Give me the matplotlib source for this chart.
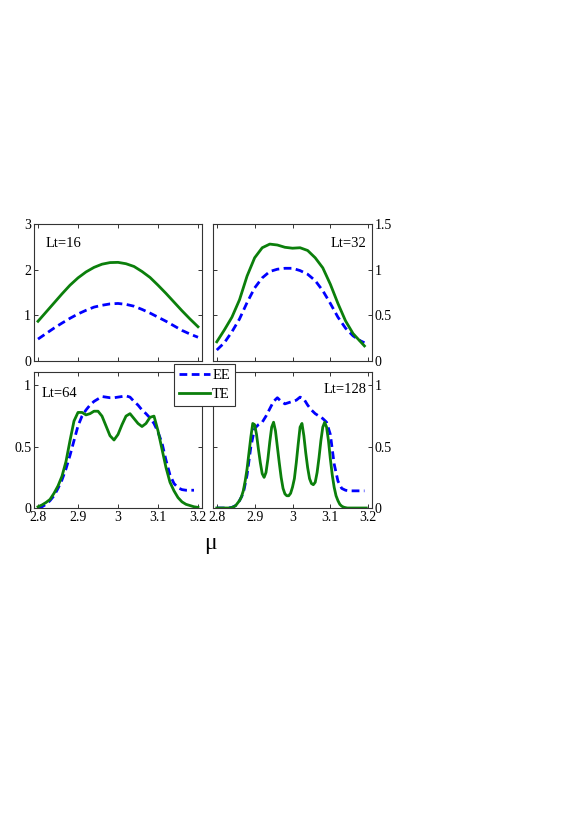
import numpy as np
import matplotlib
matplotlib.use("Agg")
import matplotlib.pyplot as plt
from matplotlib.lines import Line2D

plt.rcParams['font.family'] = ['Liberation Serif', 'DejaVu Serif']
plt.rcParams['mathtext.fontset'] = 'stix'

# ---------------- data ----------------
mu_16 = [2.80, 2.82, 2.84, 2.86, 2.88, 2.90, 2.92, 2.94, 2.96, 2.98, 3.00,
         3.02, 3.04, 3.06, 3.08, 3.10, 3.12, 3.14, 3.16, 3.18, 3.20]
te_16 = [0.87, 1.07, 1.27, 1.47, 1.66, 1.82, 1.95, 2.05, 2.12, 2.155, 2.16,
         2.13, 2.07, 1.96, 1.83, 1.66, 1.48, 1.29, 1.10, 0.92, 0.75]
ee_16 = [0.48, 0.60, 0.72, 0.83, 0.935, 1.03, 1.11, 1.18, 1.22, 1.25, 1.26,
         1.24, 1.20, 1.13, 1.05, 0.96, 0.87, 0.77, 0.67, 0.59, 0.52]

mu_32 = [2.80, 2.82, 2.84, 2.86, 2.88, 2.90, 2.92, 2.94, 2.96, 2.98, 3.00,
         3.02, 3.04, 3.06, 3.08, 3.10, 3.12, 3.14, 3.16, 3.18, 3.19]
te_32 = [0.21, 0.34, 0.48, 0.67, 0.93, 1.13, 1.24, 1.28, 1.27, 1.245, 1.235,
         1.24, 1.21, 1.13, 1.02, 0.84, 0.63, 0.44, 0.30, 0.21, 0.165]
ee_32 = [0.12, 0.20, 0.32, 0.46, 0.64, 0.80, 0.91, 0.98, 1.005, 1.015, 1.015,
         0.99, 0.95, 0.88, 0.77, 0.63, 0.48, 0.36, 0.275, 0.22, 0.20]

mu_64 = [2.80, 2.81, 2.82, 2.83, 2.84, 2.85, 2.86, 2.87, 2.88, 2.89, 2.90,
         2.91, 2.92, 2.93, 2.94, 2.95, 2.96, 2.97, 2.98, 2.99, 3.00,
         3.01, 3.02, 3.03, 3.04, 3.05, 3.06, 3.07, 3.08, 3.09, 3.10,
         3.11, 3.12, 3.13, 3.14, 3.15, 3.16, 3.17, 3.18, 3.19, 3.20]
te_64 = [0.01, 0.025, 0.045, 0.07, 0.12, 0.18, 0.26, 0.38, 0.55, 0.71, 0.78,
         0.78, 0.76, 0.77, 0.79, 0.79, 0.75, 0.67, 0.59, 0.555, 0.60,
         0.68, 0.75, 0.77, 0.73, 0.69, 0.665, 0.69, 0.74, 0.75, 0.63,
         0.48, 0.33, 0.21, 0.14, 0.085, 0.05, 0.03, 0.02, 0.01, 0.005]
mu_64e = [2.80, 2.81, 2.82, 2.83, 2.84, 2.85, 2.86, 2.87, 2.88, 2.89, 2.90,
          2.91, 2.92, 2.93, 2.94, 2.95, 2.96, 2.97, 2.98, 2.99, 3.00,
          3.01, 3.02, 3.03, 3.04, 3.05, 3.06, 3.07, 3.08, 3.09, 3.10,
          3.11, 3.12, 3.13, 3.14, 3.15, 3.16, 3.17, 3.18, 3.19]
ee_64 = [0.0, 0.01, 0.03, 0.06, 0.10, 0.16, 0.23, 0.32, 0.43, 0.55, 0.67,
         0.75, 0.80, 0.84, 0.87, 0.89, 0.91, 0.905, 0.90, 0.90, 0.905,
         0.91, 0.915, 0.905, 0.87, 0.84, 0.80, 0.77, 0.735, 0.69, 0.62,
         0.53, 0.39, 0.27, 0.20, 0.165, 0.15, 0.145, 0.145, 0.145]

mu_128 = [2.800, 2.805, 2.810, 2.815, 2.820, 2.825, 2.830, 2.835, 2.840, 2.845,
          2.850, 2.855, 2.860, 2.865, 2.870, 2.875, 2.880, 2.885, 2.890, 2.895,
          2.900, 2.905, 2.910, 2.915, 2.920, 2.925, 2.930, 2.935, 2.940, 2.945,
          2.950, 2.955, 2.960, 2.965, 2.970, 2.975, 2.980, 2.985, 2.990, 2.995,
          3.000, 3.005, 3.010, 3.015, 3.020, 3.025, 3.030, 3.035, 3.040, 3.045,
          3.050, 3.055, 3.060, 3.065, 3.070, 3.075, 3.080, 3.085, 3.090, 3.095,
          3.100, 3.105, 3.110, 3.115, 3.120, 3.125, 3.130, 3.135, 3.140, 3.145,
          3.150, 3.155, 3.160, 3.165, 3.170, 3.175, 3.180, 3.185, 3.190, 3.195]
te_128 = [0.0, 0.0, 0.0, 0.0, 0.0, 0.0, 0.0, 0.0, 0.005, 0.01,
          0.02, 0.04, 0.06, 0.09, 0.14, 0.22, 0.32, 0.45, 0.58, 0.69,
          0.68, 0.60, 0.48, 0.37, 0.28, 0.25, 0.29, 0.40, 0.54, 0.66,
          0.70, 0.63, 0.50, 0.37, 0.25, 0.16, 0.115, 0.10, 0.10, 0.12,
          0.17, 0.24, 0.37, 0.52, 0.66, 0.69, 0.59, 0.45, 0.33, 0.24,
          0.20, 0.19, 0.21, 0.29, 0.41, 0.55, 0.66, 0.70, 0.66, 0.55,
          0.40, 0.27, 0.17, 0.10, 0.06, 0.03, 0.015, 0.007, 0.003, 0.0,
          0.0, 0.0, 0.0, 0.0, 0.0, 0.0, 0.0, 0.0, 0.0, 0.0]
mu_128e = [2.80, 2.81, 2.82, 2.83, 2.84, 2.85, 2.86, 2.87, 2.88, 2.89, 2.90,
           2.91, 2.92, 2.93, 2.94, 2.95, 2.96, 2.97, 2.98, 2.99, 3.00,
           3.01, 3.02, 3.03, 3.04, 3.05, 3.06, 3.07, 3.08, 3.09, 3.10,
           3.11, 3.12, 3.13, 3.14, 3.15, 3.16, 3.17, 3.18, 3.19]
ee_128 = [0.0, 0.0, 0.0, 0.0, 0.005, 0.02, 0.06, 0.12, 0.27, 0.50, 0.65,
          0.68, 0.70, 0.75, 0.81, 0.87, 0.90, 0.87, 0.85, 0.86, 0.87,
          0.88, 0.905, 0.89, 0.84, 0.80, 0.77, 0.75, 0.73, 0.70, 0.60,
          0.36, 0.22, 0.16, 0.145, 0.14, 0.14, 0.14, 0.14, 0.14]

panel_labels = ['Lt=16', 'Lt=32', 'Lt=64', 'Lt=128']
xticks = [2.8, 2.9, 3.0, 3.1, 3.2]
xticklabels = ['2.8', '2.9', '3', '3.1', '3.2']

# ---------------- style ----------------
W, H = 581, 823
fig = plt.figure(figsize=(W / 100, H / 100), dpi=100)
BLUE = '#0000ff'
GREEN = '#0b7f0b'
LW = 2.0
DASH = (2.8, 1.6)
SPINE = '#333333'


def ax_at(x0, y0, x1, y1):
    return fig.add_axes([x0 / W, 1 - y1 / H, (x1 - x0) / W, (y1 - y0) / H])


axes = [ax_at(34, 224, 202, 361), ax_at(213, 224, 372, 361),
        ax_at(34, 372, 202, 508), ax_at(213, 372, 372, 508)]

series = [(mu_16, ee_16, mu_16, te_16), (mu_32, ee_32, mu_32, te_32),
          (mu_64e, ee_64, mu_64, te_64), (mu_128e, ee_128, mu_128, te_128)]
ylims = [(0, 3), (0, 1.5), (0, 1.11), (0, 1.11)]
yticks = [[0, 1, 2, 3], [0, 0.5, 1, 1.5], [0, 0.5, 1], [0, 0.5, 1]]
yticklabels = [['0', '1', '2', '3'], ['0', '0.5', '1', '1.5'],
               ['0', '0.5', '1'], ['0', '0.5', '1']]

for i, ax in enumerate(axes):
    xe, ye, xt, yt = series[i]
    ax.plot(xe, ye, color=BLUE, lw=LW, dashes=DASH, solid_capstyle='butt')
    ax.plot(xt, yt, color=GREEN, lw=LW)
    ax.set_xlim(2.79, 3.21)
    ax.set_ylim(*ylims[i])
    ax.set_xticks(xticks)
    ax.set_yticks(yticks[i])
    ax.set_yticklabels(yticklabels[i])
    right = (i % 2 == 1)
    bottom = (i >= 2)
    ax.tick_params(direction='in', length=3, width=0.7, color=SPINE,
                   top=True, right=True, left=True, bottom=True,
                   labelsize=10, pad=2,
                   labelleft=not right, labelright=right,
                   labelbottom=bottom)
    if bottom:
        ax.set_xticklabels(xticklabels)
    for s in ax.spines.values():
        s.set_color(SPINE)
        s.set_linewidth(0.8)

axes[0].text(0.07, 0.86, panel_labels[0], transform=axes[0].transAxes,
             fontsize=10.5, ha='left', va='center')
axes[1].text(0.965, 0.86, panel_labels[1], transform=axes[1].transAxes,
             fontsize=10.5, ha='right', va='center')
axes[2].text(0.045, 0.84, panel_labels[2], transform=axes[2].transAxes,
             fontsize=10.5, ha='left', va='center')
axes[3].text(0.965, 0.87, panel_labels[3], transform=axes[3].transAxes,
             fontsize=10.5, ha='right', va='center')

handles = [Line2D([], [], color=BLUE, lw=LW, dashes=DASH),
           Line2D([], [], color=GREEN, lw=LW)]
leg = fig.legend(handles, ['EE', 'TE'], loc='upper left',
                 bbox_to_anchor=(174 / W, 1 - 364 / H), borderaxespad=0,
                 fontsize=10.5, handlelength=2.15, handletextpad=0.12,
                 borderpad=0.35, labelspacing=0.4, fancybox=False,
                 framealpha=1, edgecolor=SPINE)
leg.get_frame().set_linewidth(0.8)

fig.text(210 / W, 1 - 543 / H, 'μ', fontsize=17, ha='center', va='center')

fig.savefig('out.png', dpi=100)
